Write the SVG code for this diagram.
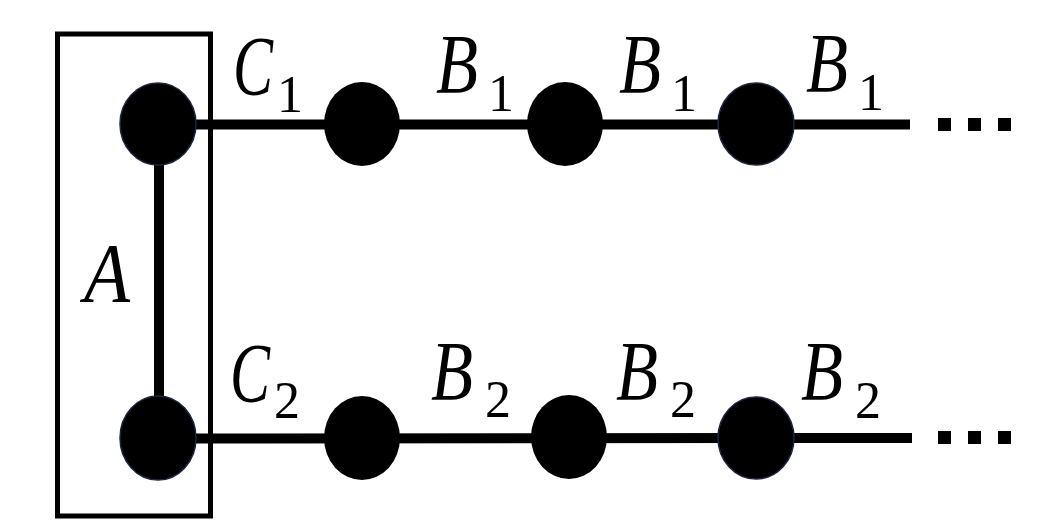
<svg xmlns="http://www.w3.org/2000/svg" width="1047" height="528" viewBox="0 0 1047 528">
<style>
.lbl{font-family:"Liberation Serif","Times New Roman",serif;font-size:84px;fill:#000}
.it{font-style:italic}
.sub{font-size:52px;font-style:normal}
.edge{stroke:#000;stroke-width:10;fill:none}
.node{fill:#000}
.node.o{stroke:#1c2541;stroke-width:1.5}
.dot{fill:#000}
</style>
<rect width="1047" height="528" fill="#fff"/>
<g id="groupA">
<rect x="57.5" y="34" width="153" height="482" fill="none" stroke="#000" stroke-width="5"/>
<text class="lbl it" x="84" y="302" textLength="46" lengthAdjust="spacingAndGlyphs">A</text>
</g>
<g id="connectors">
<line class="edge" x1="159" y1="124" x2="159" y2="438"/>
<line class="edge" x1="158" y1="124.5" x2="910" y2="124.5"/>
<line class="edge" x1="158" y1="438.5" x2="912" y2="438"/>
<rect class="dot" x="938" y="118" width="13" height="13"/>
<rect class="dot" x="968" y="118" width="13" height="13"/>
<rect class="dot" x="998" y="118" width="13" height="13"/>
<rect class="dot" x="938" y="431" width="13" height="13"/>
<rect class="dot" x="968" y="431" width="13" height="13"/>
<rect class="dot" x="998" y="431" width="13" height="13"/>
</g>
<g id="labels">
<text class="lbl"><tspan class="it" x="233" y="95" textLength="40" lengthAdjust="spacingAndGlyphs">C</tspan><tspan class="sub" x="277" y="112">1</tspan></text>
<text class="lbl"><tspan class="it" x="436" y="93" textLength="42" lengthAdjust="spacingAndGlyphs">B</tspan><tspan class="sub" x="488" y="111">1</tspan></text>
<text class="lbl"><tspan class="it" x="619" y="93" textLength="42" lengthAdjust="spacingAndGlyphs">B</tspan><tspan class="sub" x="671" y="111">1</tspan></text>
<text class="lbl"><tspan class="it" x="806" y="92" textLength="42" lengthAdjust="spacingAndGlyphs">B</tspan><tspan class="sub" x="858" y="110">1</tspan></text>
<text class="lbl"><tspan class="it" x="230" y="402" textLength="40" lengthAdjust="spacingAndGlyphs">C</tspan><tspan class="sub" x="274" y="418">2</tspan></text>
<text class="lbl"><tspan class="it" x="431" y="400" textLength="42" lengthAdjust="spacingAndGlyphs">B</tspan><tspan class="sub" x="485" y="417">2</tspan></text>
<text class="lbl"><tspan class="it" x="616" y="400" textLength="42" lengthAdjust="spacingAndGlyphs">B</tspan><tspan class="sub" x="670" y="417">2</tspan></text>
<text class="lbl"><tspan class="it" x="801" y="400" textLength="42" lengthAdjust="spacingAndGlyphs">B</tspan><tspan class="sub" x="855" y="418">2</tspan></text>
</g>
<g id="n1"><ellipse class="node o" cx="158" cy="124" rx="38" ry="41"/></g>
<g id="n2"><ellipse class="node" cx="362" cy="124" rx="38" ry="42"/></g>
<g id="n3"><ellipse class="node" cx="565" cy="124" rx="38" ry="42"/></g>
<g id="n4"><ellipse class="node o" cx="756" cy="124" rx="38" ry="41"/></g>
<g id="n5"><ellipse class="node o" cx="158" cy="438" rx="38" ry="42"/></g>
<g id="n6"><ellipse class="node" cx="362" cy="438" rx="38" ry="42"/></g>
<g id="n7"><ellipse class="node" cx="569" cy="437" rx="38" ry="42"/></g>
<g id="n8"><ellipse class="node o" cx="756" cy="438" rx="38" ry="41"/></g>
</svg>
